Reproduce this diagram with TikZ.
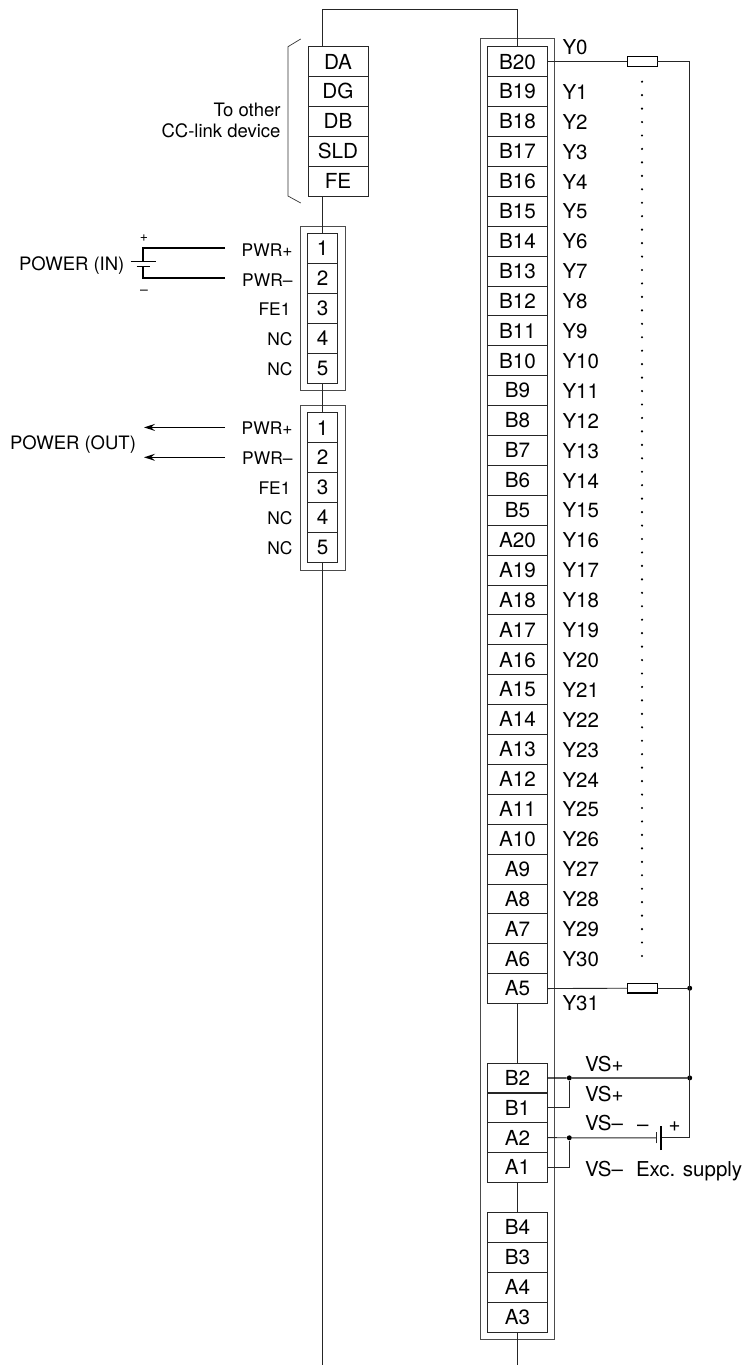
\documentclass[tikz,border=0pt]{standalone}
\usepackage{fontspec}
\setmainfont{TeX Gyre Heros}
\usetikzlibrary{arrows.meta}
\newcommand{\fsz}[1]{\fontsize{#1}{#1}\selectfont}
\tikzset{
  wire/.style={line width=0.9pt,black!85},
  heavy/.style={line width=1.3pt,black},
  housing/.style={draw=black!70,line width=0.9pt},
  cellbox/.style={draw=black!85,line width=0.8pt,minimum width=60pt,minimum height=29.9pt,inner sep=0pt,outer sep=0pt,font=\fsz{20.7},text height=14.8pt,text depth=0pt},
  pinbox/.style={draw=black!85,line width=0.8pt,minimum width=30pt,minimum height=29.9pt,inner sep=0pt,outer sep=0pt,font=\fsz{20.7},text height=14.8pt,text depth=0pt},
  lab/.style={inner sep=0pt,outer sep=0pt,text depth=0pt},
  ylab/.style={lab,anchor=west,font=\fsz{20.5},text height=14.7pt},
  pinlab/.style={lab,anchor=east,font=\fsz{17.4},text height=12.5pt},
  biglab/.style={lab,font=\fsz{18.5},text height=13.3pt},
  smalllab/.style={lab,font=\fsz{14},text height=10pt},
  reslab/.style={draw=black,line width=1.2pt,fill=white,minimum width=30pt,minimum height=9.5pt,inner sep=0pt,outer sep=0pt},
  jdot/.style={circle,fill=black,inner sep=0pt,minimum size=5pt},
  tdot/.style={circle,fill=black,inner sep=0pt,minimum size=2.4pt},
  outarrow/.style={heavy,-{Stealth[length=11pt,width=7pt,inset=4pt]}}
}
\begin{document}
\begin{tikzpicture}[x=1pt,y=-1pt]
\useasboundingbox (0,0) rectangle (745,1367);

% housings
\node[housing,minimum width=45pt,minimum height=164.5pt,inner sep=0pt,outer sep=0pt] (hone) at (322.5,308.2) {};
\node[housing,minimum width=45pt,minimum height=164.5pt,inner sep=0pt,outer sep=0pt] (htwo) at (322.5,487.7) {};
\node[housing,minimum width=74.7pt,minimum height=1301pt,inner sep=0pt,outer sep=0pt] (hmain) at (517.35,689.2) {};

% CC-link terminal
\foreach \t [count=\i from 0] in {DA,DG,DB,SLD,FE}
  \node[cellbox] (\t) at (338,{61.7+29.9*\i}) {\t};

% power connectors
\foreach \i in {1,...,5} {
  \node[pinbox] (p\i) at (322.5,{248.45+29.9*(\i-1)}) {\i};
  \node[pinbox] (q\i) at (322.5,{427.65+29.9*(\i-1)}) {\i};
}

% main terminal
\foreach \t [count=\i from 0] in {B20,B19,B18,B17,B16,B15,B14,B13,B12,B11,B10,B9,B8,B7,B6,B5,A20,A19,A18,A17,A16,A15,A14,A13,A12,A11,A10,A9,A8,A7,A6,A5}
  \node[cellbox] (\t) at (517.5,{61.65+29.9*\i}) {\t};
\foreach \t [count=\i from 0] in {B2,B1,A2,A1}
  \node[cellbox] (\t) at (517.5,{1078.0+29.8*\i}) {\t};
\foreach \t [count=\i from 0] in {B4,B3,A4,A3}
  \node[cellbox] (\t) at (517.5,{1227.2+29.95*\i}) {\t};

% Y labels
\node[ylab] (Yzero) at (562.5,47) {Y0};
\foreach \n in {1,...,30}
  \node[ylab] (Y\n) at (562.5,{92+29.9*(\n-1)}) {Y\n};
\node[ylab] (Yxxxi) at (562.5,1003) {Y31};

% free ends and bends
\coordinate (topw) at (322.5,9);
\coordinate (endl) at (322.5,1365);
\coordinate (endr) at (517.5,1365);
\coordinate (rail) at (689.7,61.65);

% backbone wires
\draw[wire] (p1.north |- DA.north) -- (p1.north |- topw) -- (B20.north |- topw) -- (B20.north);
\draw[wire] (p1.north |- FE.south) -- (p1.north);
\draw[wire] (p5.south) -- (q1.north);
\draw[wire] (q5.south) -- (endl);
\draw[wire] (A5.south) -- (B2.north);
\draw[wire] (A1.south) -- (B4.north);
\draw[wire] (A3.south) -- (endr);

% brace
\coordinate (bra) at (300.7,39);
\coordinate (brb) at (288,46.7);
\coordinate (brc) at (288,196);
\coordinate (brd) at (300.7,203);
\draw[line width=0.7pt,black!80] (bra) -- (brb) -- (brc) -- (brd);
\node[biglab,anchor=east] (toa) at (280.5,110) {To other};
\node[biglab,anchor=east] (tob) at (280.5,131) {CC-link device};

% power in
\node[biglab,anchor=west] (pin) at (19,263.5) {POWER (IN)};
\coordinate (ptop) at (143,248);
\coordinate (pbot) at (143,278);
\coordinate (pla) at (143,261.3);
\coordinate (plb) at (143,266.3);
\coordinate (pwa) at (225,248);
\coordinate (pwb) at (225,278);
\draw[heavy] (pwa) -- (ptop) -- (pla);
\draw[heavy] (pwb) -- (pbot) -- (plb);
\draw[heavy] ([xshift=-12.5pt]pla) -- ([xshift=12.5pt]pla);
\draw[heavy] ([xshift=-6.5pt]plb) -- ([xshift=6.5pt]plb);
\node[smalllab] (pplus) at (144,236) {+};
\node[smalllab] (pminus) at (144,289) {–};

\node[pinlab] (la1) at (292.5,250) {PWR+};
\node[pinlab] (la2) at (292.5,280.5) {PWR–};
\node[pinlab] (la3) at (290.5,309) {FE1};
\node[pinlab] (la4) at (292.5,339) {NC};
\node[pinlab] (la5) at (292.5,369) {NC};

% power out
\node[biglab,anchor=west] (pout) at (10,442.7) {POWER (OUT)};
\coordinate (oa) at (225,427.4);
\coordinate (ob) at (225,457.3);
\coordinate (oc) at (144,427.4);
\coordinate (od) at (144,457.3);
\draw[outarrow] (oa) -- (oc);
\draw[outarrow] (ob) -- (od);
\node[pinlab] (lb1) at (292.5,428.5) {PWR+};
\node[pinlab] (lb2) at (292.5,458.5) {PWR–};
\node[pinlab] (lb3) at (290.5,488) {FE1};
\node[pinlab] (lb4) at (292.5,518) {NC};
\node[pinlab] (lb5) at (292.5,548) {NC};

% output wiring
\node[reslab] (rtop) at (642.3,61.65) {};
\node[reslab] (rbot) at (642.3,988.2) {};
\draw[wire] (B20.east) -- (rtop.west);
\draw[wire] (A5.east) -- (rbot.west);
\node[jdot] (ja) at (rail |- rbot) {};
\node[jdot] (jb) at (689.7,1077.9) {};
\node[jdot] (jc) at (569.3,1077.9) {};
\node[jdot] (jd) at (569.3,1137.8) {};
\coordinate (batn) at (656,1137.8);
\coordinate (batp) at (661,1137.8);
\coordinate (railb) at (689.7,1137.8);
\draw[wire] (rtop.east) -- (rail) -- (railb) -- (batp);
\draw[wire] (rbot.east) -- (ja);
\draw[heavy] (B2.east) -- (jc) -- (jb);
\draw[wire] (B1.east) -| (jc);
\draw[wire] (A2.east) -- (jd) -- (batn);
\draw[wire] (A1.east) -| (jd);
\draw[wire] ([yshift=-5.5pt]batn) -- ([yshift=5.5pt]batn);
\draw[heavy] ([yshift=-12.2pt]batp) -- ([yshift=12.2pt]batp);

% dots
\foreach \i in {0,...,65}
  \node[tdot] (dot\i) at (642,{81.7+13.45*\i}) {};

% supply labels
\node[ylab] (vsa) at (585,1064) {VS+};
\node[ylab] (vsb) at (585,1094) {VS+};
\node[ylab] (vsc) at (585,1123) {VS–};
\node[ylab] (vsd) at (585,1169) {VS–};
\node[ylab] (minus) at (637,1124) {–};
\node[ylab] (plus) at (668.5,1124) {+};
\node[ylab] (exc) at (636,1169) {Exc. supply};
\end{tikzpicture}
\end{document}
